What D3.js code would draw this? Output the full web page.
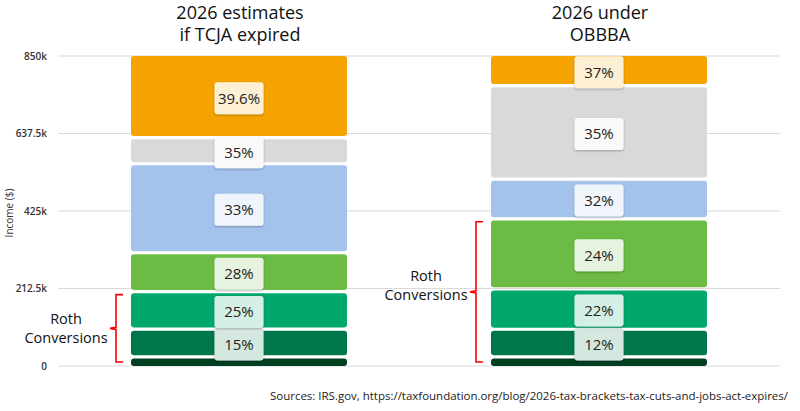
<!DOCTYPE html>
<html>
<head>
<meta charset="utf-8">
<script src="https://cdn.jsdelivr.net/npm/d3@7"></script>
<style>
  body { margin: 0; background: #fff; }
  svg { display: block; font-family: "Open Sans", "Noto Sans", sans-serif; }
</style>
</head>
<body>
<div id="chart"></div>
<script>
const width = 800;
const height = 411;

// bracket tops (MFJ income, $) for each scenario, bottom to top
const scenarios = ["2026 estimates\nif TCJA expired", "2026 under\nOBBBA"];
const tcjaRates = ["10%", "15%", "25%", "28%", "33%", "35%", "39.6%"];
const tcjaTops = [24850, 101000, 203800, 310550, 554600, 626450, 850000];
const obbbaRates = ["10%", "12%", "22%", "24%", "32%", "35%", "37%"];
const obbbaTops = [24800, 100800, 211400, 403550, 512450, 768700, 850000];
const bandColors = ["#003f20", "#00774a", "#00a86b", "#6bbb44", "#a4c3ec", "#d9d9d9", "#f4a300"];
const yTicks = [0, 212500, 425000, 637500, 850000];
const tickLabels = ["0", "212.5k", "425k", "637.5k", "850k"];
const rothBands = [3, 4]; // number of bands covered by the Roth brace per scenario
const source = "Sources: IRS.gov, https://taxfoundation.org/blog/2026-tax-brackets-tax-cuts-and-jobs-act-expires/";

const svg = d3.select("#chart").append("svg")
  .attr("width", width)
  .attr("height", height);

const defs = svg.append("defs");
const shadow = defs.append("filter").attr("id", "shadow")
  .attr("x", "-30%").attr("y", "-30%").attr("width", "160%").attr("height", "160%");
shadow.append("feDropShadow")
  .attr("dx", 0).attr("dy", 1).attr("stdDeviation", 1.2)
  .attr("flood-color", "#000").attr("flood-opacity", 0.3);

const y = d3.scaleLinear().domain([0, 850000]).range([366, 56]);
const x = d3.scaleBand().domain(scenarios).range([131, 707]).paddingInner(0.4).paddingOuter(0);
const bw = x.bandwidth();

// gridlines
svg.append("g")
  .selectAll("line")
  .data(yTicks)
  .join("line")
  .attr("x1", 58)
  .attr("x2", 780)
  .attr("y1", (d) => y(d))
  .attr("y2", (d) => y(d))
  .attr("stroke", "#d9d9d9")
  .attr("stroke-width", 1.2);

// tick labels
svg.append("g")
  .selectAll("text")
  .data(yTicks)
  .join("text")
  .attr("x", 47)
  .attr("y", (d) => y(d))
  .attr("dy", "0.35em")
  .attr("text-anchor", "end")
  .attr("font-size", 10)
  .attr("font-weight", 600)
  .attr("fill", "#333")
  .text((d, i) => tickLabels[i]);

svg.append("text")
  .attr("transform", `translate(13,${y(425000) + 2}) rotate(-90)`)
  .attr("text-anchor", "middle")
  .attr("font-size", 10)
  .attr("fill", "#333")
  .text("Income ($)");

// bars
const gap = 1.6;
const rothShift = [0, -7];
[tcjaTops, obbbaTops].forEach((tops, si) => {
  const rates = si === 0 ? tcjaRates : obbbaRates;
  const x0 = x(scenarios[si]);
  const segs = tops.map((t, i) => ({
    lo: i === 0 ? 0 : tops[i - 1],
    hi: t,
    rate: rates[i],
    color: bandColors[i],
    idx: i,
  }));
  const g = svg.append("g").attr("transform", `translate(${x0},0)`);

  g.selectAll("rect.seg")
    .data(segs)
    .join("rect")
    .attr("class", "seg")
    .attr("x", 0)
    .attr("width", bw)
    .attr("y", (d) => y(d.hi) + (d.idx === segs.length - 1 ? 0 : gap))
    .attr("height", (d) => y(d.lo) - y(d.hi) - (d.idx === segs.length - 1 ? gap : 2 * gap) + (d.idx === 0 ? gap : 0))
    .attr("rx", 3)
    .attr("fill", (d) => d.color);

  const labels = g.selectAll("g.lab")
    .data(segs.filter((d) => d.idx > 0))
    .join("g")
    .attr("class", "lab")
    .attr("transform", (d) => `translate(${bw / 2},${(y(d.lo) + y(d.hi)) / 2 + 1.5})`);

  labels.append("rect")
    .attr("x", -24.5)
    .attr("y", -16)
    .attr("width", 49)
    .attr("height", 32)
    .attr("rx", 3)
    .attr("fill", "#fff")
    .attr("filter", "url(#shadow)");
  labels.append("rect")
    .attr("x", -24.5)
    .attr("y", -16)
    .attr("width", 49)
    .attr("height", 32)
    .attr("rx", 3)
    .attr("fill", (d) => d.color)
    .attr("fill-opacity", 0.17);
  labels.append("text")
    .attr("text-anchor", "middle")
    .attr("dy", "0.36em")
    .attr("font-size", 15)
    .attr("fill", "#222")
    .text((d) => d.rate);

  // title, two lines
  scenarios[si].split("\n").forEach((line, li) => {
    svg.append("text")
      .attr("x", x0 + bw / 2 + 1)
      .attr("y", 19 + li * 22)
      .attr("text-anchor", "middle")
      .attr("font-size", 18)
      .attr("fill", "#111")
      .text(line);
  });

  // Roth conversions brace
  const top = y(tops[rothBands[si] - 1]) + 3;
  const bot = 362;
  const bx = x0 - 15;
  const mid = (top + bot) / 2;
  svg.append("path")
    .attr("d", `M${bx + 7},${top} H${bx} V${mid - 1} L${bx - 6},${mid} L${bx},${mid + 1} V${bot} H${bx + 7}`)
    .attr("fill", "none")
    .attr("stroke", "#ff0000")
    .attr("stroke-width", 1.6);

  ["Roth", "Conversions"].forEach((line, li) => {
    svg.append("text")
      .attr("x", bx - 50)
      .attr("y", mid - 4 + rothShift[si] + li * 19)
      .attr("text-anchor", "middle")
      .attr("font-size", 14.5)
      .attr("fill", "#111")
      .text(line);
  });
});

svg.append("text")
  .attr("x", 788)
  .attr("y", 400)
  .attr("text-anchor", "end")
  .attr("font-size", 11.5)
  .attr("fill", "#222")
  .attr("textLength", 518)
  .attr("lengthAdjust", "spacingAndGlyphs")
  .text(source);
</script>
</body>
</html>
